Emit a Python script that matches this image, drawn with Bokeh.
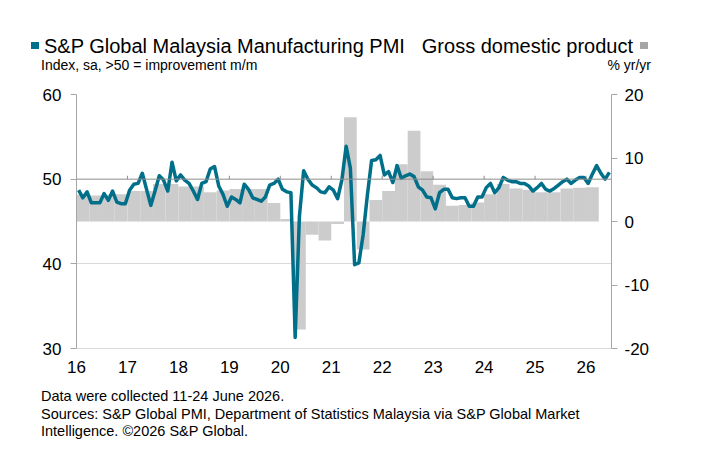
import numpy as np
from bokeh.plotting import figure
from bokeh.layouts import column
from bokeh.models import Range1d, LinearAxis, FixedTicker, Span, Div
from bokeh.embed import file_html
from bokeh.resources import INLINE

# ---------------- data ----------------
year_labels = ["16", "17", "18", "19", "20", "21", "22", "23", "24", "25", "26"]

# S&P Global Malaysia Manufacturing PMI, monthly Jan 2016 .. Jun 2026
pmi_2016 = [48.7, 47.8, 48.5, 47.2, 47.2, 47.2, 48.3, 47.5, 48.6, 47.3, 47.1, 47.1]
pmi_2017 = [48.7, 49.4, 49.5, 50.7, 48.8, 46.9, 48.6, 50.4, 49.9, 48.6, 52.0, 49.8]
pmi_2018 = [50.5, 49.9, 49.5, 48.6, 47.6, 49.5, 49.7, 51.2, 51.5, 49.2, 48.2, 46.8]
pmi_2019 = [47.9, 47.6, 47.2, 49.4, 48.8, 47.8, 47.6, 47.4, 47.9, 49.3, 49.5, 50.0]
pmi_2020 = [48.8, 48.5, 48.4, 31.3, 45.6, 51.0, 50.0, 49.3, 49.0, 48.5, 48.4, 49.1]
pmi_2021 = [48.7, 47.7, 49.9, 53.9, 51.3, 39.9, 40.1, 43.4, 48.1, 52.2, 52.3, 52.8]
pmi_2022 = [50.5, 50.9, 49.6, 51.6, 50.1, 50.4, 50.6, 50.3, 49.1, 48.7, 47.9, 47.8]
pmi_2023 = [46.5, 48.4, 48.8, 48.8, 47.8, 47.7, 47.8, 47.8, 46.8, 46.8, 47.9, 47.9]
pmi_2024 = [49.0, 49.5, 48.4, 49.0, 50.2, 49.9, 49.7, 49.7, 49.5, 49.5, 49.2, 48.6]
pmi_2025 = [49.0, 49.5, 48.8, 48.6, 48.9, 49.3, 49.7, 50.0, 49.5, 49.9, 50.2, 50.2]
pmi_2026 = [49.5, 50.6, 51.6, 50.7, 50.0, 50.8]
pmi = (pmi_2016 + pmi_2017 + pmi_2018 + pmi_2019 + pmi_2020 + pmi_2021
       + pmi_2022 + pmi_2023 + pmi_2024 + pmi_2025 + pmi_2026)

# Gross domestic product, % yr/yr, quarterly 2016Q1 .. 2026Q1
gdp = [4.2, 4.1, 4.2, 4.3,
       4.8, 4.8, 5.9, 5.9,
       5.5, 5.5, 4.6, 4.9,
       5.1, 5.1, 5.1, 2.9,
       0.4, -17.0, -2.1, -3.0,
       -0.4, 16.4, -4.4, 3.4,
       4.8, 9.0, 14.3, 7.9,
       5.8, 2.5, 2.6, 3.0,
       4.3, 5.9, 5.2, 5.0,
       4.6, 4.6, 5.2, 5.3,
       5.4]

legend_pmi = "S&amp;P Global Malaysia Manufacturing PMI"
legend_gdp = "Gross domestic product"
unit_pmi = "Index, sa, &gt;50 = improvement m/m"
unit_gdp = "% yr/yr"
notes = ["Data were collected 11-24 June 2026.",
         "Sources: S&amp;P Global PMI, Department of Statistics Malaysia via S&amp;P Global Market",
         "Intelligence. &copy;2026 S&amp;P Global."]

# ---------------- layout constants ----------------
W, H = 721, 473
HEAD_H = 84           # header: y 0..84
MAIN_BOTTOM = 385     # main chart: y 84..385, footer: 385..473
FL, FR, FT, FB = 76, 611, 94, 348
N_MONTHS = 126
TEAL = "#006f8a"
BAR = "#cccccc"
LEG_GREY = "#a6a6a6"
FONT = "Liberation Sans"


def span(left, center_y, size, lh, text, right=None):
    top = center_y - lh / 2
    pos = f"left:{left}px;" if right is None else f"right:{W - right}px;"
    return (f'<span style="position:absolute;{pos}top:{top}px;font-size:{size}px;'
            f'line-height:{lh}px;white-space:nowrap;">{text}</span>')


def box(left, top, w, h, color):
    return (f'<div style="position:absolute;left:{left}px;top:{top}px;width:{w}px;'
            f'height:{h}px;background:{color};"></div>')


def panel(height, inner):
    return Div(text=(f'<div style="position:relative;width:{W}px;height:{height}px;'
                     f"font-family:'{FONT}';color:#000;overflow:visible;\">{inner}</div>"),
               width=W, height=height, margin=(0, 0, 0, 0))


# ---------------- header ----------------
head_html = (box(31, 42, 8, 7, TEAL)
             + span(44, 46, 20, 24, legend_pmi)
             + span(0, 46, 20, 24, legend_gdp, right=633)
             + box(640, 42, 8, 7, LEG_GREY)
             + span(41, 65, 14, 17, unit_pmi)
             + span(0, 65, 14, 17, unit_gdp, right=651))
head = panel(HEAD_H, head_html)

# ---------------- main chart ----------------
p = figure(width=W, height=MAIN_BOTTOM - HEAD_H, output_backend="svg", toolbar_location=None,
           x_range=Range1d(0, N_MONTHS), y_range=Range1d(30, 60),
           min_border_left=FL, min_border_right=W - FR,
           min_border_top=FT - HEAD_H, min_border_bottom=MAIN_BOTTOM - FB)
p.outline_line_color = None
p.extra_y_ranges = {"gdp": Range1d(-20, 20)}

p.xgrid.visible = False
p.ygrid.ticker = FixedTicker(ticks=[30, 40, 60])
p.ygrid.grid_line_color = "#d9d9d9"

q = np.arange(len(gdp))
p.quad(left=q * 3, right=q * 3 + 3, bottom=0, top=gdp, y_range_name="gdp",
       fill_color=BAR, line_color=None)

p.add_layout(Span(location=50, dimension="width", line_color="#8c8c8c", line_width=1))
year_ticks = [12 * k for k in range(1, len(year_labels))]
p.segment(x0=year_ticks, y0=[50] * len(year_ticks), x1=year_ticks,
          y1=[50.4] * len(year_ticks), line_color="#8c8c8c", line_width=1)

p.line(x=np.arange(len(pmi)) + 0.5, y=pmi, line_color=TEAL, line_width=3.5,
       line_join="round")

xa = p.xaxis[0]
xa.ticker = FixedTicker(ticks=[12 * k for k in range(len(year_labels))])
xa.major_label_overrides = {12 * k: lab for k, lab in enumerate(year_labels)}
xa.axis_line_color = "#d9d9d9"
xa.major_tick_out = 0
xa.major_tick_in = 0
xa.minor_tick_line_color = None
xa.major_label_standoff = 12
xa.major_label_text_font = FONT
xa.major_label_text_font_size = "17px"
xa.major_label_text_color = "#000000"

ya = p.yaxis[0]
ya.ticker = FixedTicker(ticks=[30, 40, 50, 60])
ya.axis_line_color = "#a6a6a6"
ya.major_tick_line_color = "#a6a6a6"
ya.major_tick_out = 6
ya.major_tick_in = 0
ya.minor_tick_line_color = None
ya.major_label_standoff = 9
ya.major_label_text_font = FONT
ya.major_label_text_font_size = "17px"
ya.major_label_text_color = "#000000"

ra = LinearAxis(y_range_name="gdp", ticker=FixedTicker(ticks=[-20, -10, 0, 10, 20]))
ra.major_label_overrides = {-20: "-20", -10: "-10", 0: "0", 10: "10", 20: "20"}
ra.axis_line_color = "#a6a6a6"
ra.major_tick_line_color = "#a6a6a6"
ra.major_tick_out = 6
ra.major_tick_in = 0
ra.minor_tick_line_color = None
ra.major_label_standoff = 7
ra.major_label_text_font = FONT
ra.major_label_text_font_size = "17px"
ra.major_label_text_color = "#000000"
p.add_layout(ra, "right")

# ---------------- footer ----------------
foot_html = "".join(span(41, 397 + 17.5 * i - MAIN_BOTTOM, 14.5, 17.5, t)
                    for i, t in enumerate(notes))
foot = panel(H - MAIN_BOTTOM, foot_html)

layout = column(head, p, foot, spacing=0)
open("out.html", "w").write(file_html(layout, INLINE))
